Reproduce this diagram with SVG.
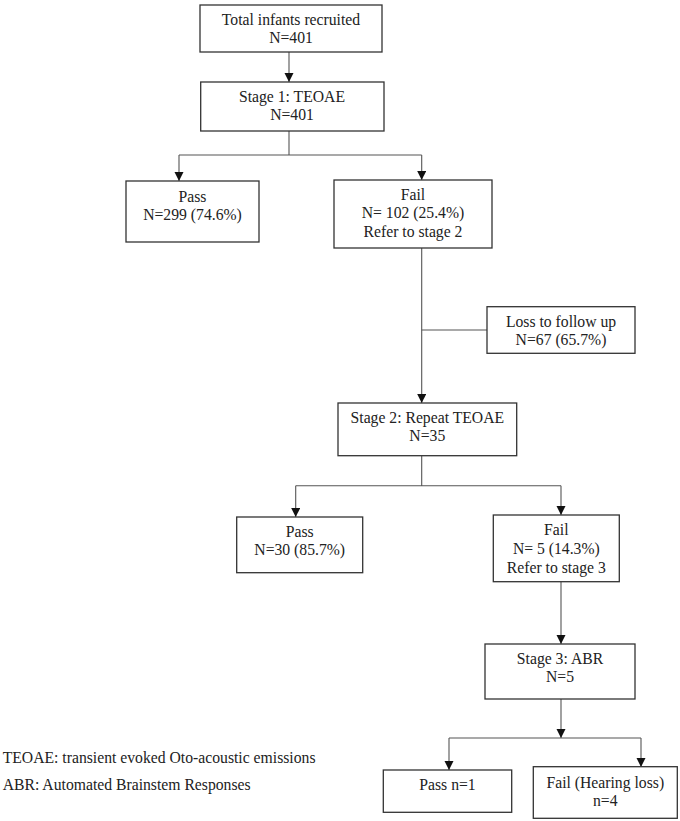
<svg xmlns="http://www.w3.org/2000/svg" width="680" height="821" viewBox="0 0 680 821">
<style>
.box{fill:#fff;stroke:#333;stroke-width:1.3}
.t{font-family:"Liberation Serif","Times New Roman",serif;font-size:15.7px;fill:#222;text-anchor:middle}
.leg{font-family:"Liberation Serif","Times New Roman",serif;font-size:15.7px;fill:#222}
.c{fill:none;stroke:#555;stroke-width:1.1}
</style>
<defs>
<marker id="ah" markerUnits="userSpaceOnUse" markerWidth="10" markerHeight="10" refX="9" refY="4.5" orient="auto">
<path d="M0,0 L9,4.5 L0,9 z" fill="#111"/>
</marker>
</defs>
<rect width="680" height="821" fill="#fff"/>
<g id="connectors">
<line class="c" x1="289" y1="52" x2="289" y2="82" marker-end="url(#ah)"/>
<path class="c" d="M289,131 V155"/>
<path class="c" d="M179,155 H421.7"/>
<line class="c" x1="179" y1="155" x2="179" y2="181" marker-end="url(#ah)"/>
<line class="c" x1="421.7" y1="155" x2="421.7" y2="180" marker-end="url(#ah)"/>
<line class="c" x1="421.7" y1="248" x2="421.7" y2="403" marker-end="url(#ah)"/>
<path class="c" d="M421.7,330 H487"/>
<path class="c" d="M421.7,456 V485.7 M295.7,485.7 H561"/>
<line class="c" x1="295.7" y1="485.7" x2="295.7" y2="517" marker-end="url(#ah)"/>
<line class="c" x1="561" y1="485.7" x2="561" y2="515" marker-end="url(#ah)"/>
<line class="c" x1="561" y1="582" x2="561" y2="644" marker-end="url(#ah)"/>
<line class="c" x1="561" y1="699" x2="561" y2="738" marker-end="url(#ah)"/>
<path class="c" d="M449,738 H641"/>
<line class="c" x1="449" y1="738" x2="449" y2="770" marker-end="url(#ah)"/>
<line class="c" x1="641" y1="738" x2="641" y2="767" marker-end="url(#ah)"/>
</g>
<g id="n-total">
<rect class="box" x="200" y="5" width="182" height="47"/>
<text class="t" x="291" y="25">Total infants recruited</text>
<text class="t" x="291" y="43">N=401</text>
</g>
<g id="n-stage1">
<rect class="box" x="200.7" y="82" width="183.3" height="49"/>
<text class="t" x="292" y="101.7">Stage 1: TEOAE</text>
<text class="t" x="292" y="120">N=401</text>
</g>
<g id="n-pass1">
<rect class="box" x="126" y="181" width="133" height="61"/>
<text class="t" x="192.5" y="201.7">Pass</text>
<text class="t" x="192.5" y="220">N=299 (74.6%)</text>
</g>
<g id="n-fail1">
<rect class="box" x="334" y="180" width="158" height="68"/>
<text class="t" x="413" y="200">Fail</text>
<text class="t" x="413" y="218">N= 102 (25.4%)</text>
<text class="t" x="413" y="236.7">Refer to stage 2</text>
</g>
<g id="n-loss">
<rect class="box" x="487" y="306.7" width="148" height="46.6"/>
<text class="t" x="561" y="326.7">Loss to follow up</text>
<text class="t" x="561" y="345">N=67 (65.7%)</text>
</g>
<g id="n-stage2">
<rect class="box" x="338" y="403" width="178.7" height="52.7"/>
<text class="t" x="427.3" y="422.7">Stage 2: Repeat TEOAE</text>
<text class="t" x="427.3" y="441">N=35</text>
</g>
<g id="n-pass2">
<rect class="box" x="236.7" y="517" width="126" height="55.7"/>
<text class="t" x="299.7" y="536.7">Pass</text>
<text class="t" x="299.7" y="555">N=30 (85.7%)</text>
</g>
<g id="n-fail2">
<rect class="box" x="493.3" y="515" width="126" height="66.7"/>
<text class="t" x="556.3" y="535">Fail</text>
<text class="t" x="556.3" y="554">N= 5 (14.3%)</text>
<text class="t" x="556.3" y="572.7">Refer to stage 3</text>
</g>
<g id="n-stage3">
<rect class="box" x="485" y="644" width="150" height="55"/>
<text class="t" x="560" y="664.3">Stage 3: ABR</text>
<text class="t" x="560" y="681.7">N=5</text>
</g>
<g id="n-pass3">
<rect class="box" x="383.3" y="770" width="128.4" height="42.3"/>
<text class="t" x="447.5" y="790">Pass n=1</text>
</g>
<g id="n-fail3">
<rect class="box" x="533.3" y="766.7" width="144" height="51.6"/>
<text class="t" x="605.3" y="787.7">Fail (Hearing loss)</text>
<text class="t" x="605.3" y="805.7">n=4</text>
</g>
<g id="legend">
<text class="leg" x="2.7" y="763">TEOAE: transient evoked Oto-acoustic emissions</text>
<text class="leg" x="2.7" y="790">ABR: Automated Brainstem Responses</text>
</g>
</svg>
